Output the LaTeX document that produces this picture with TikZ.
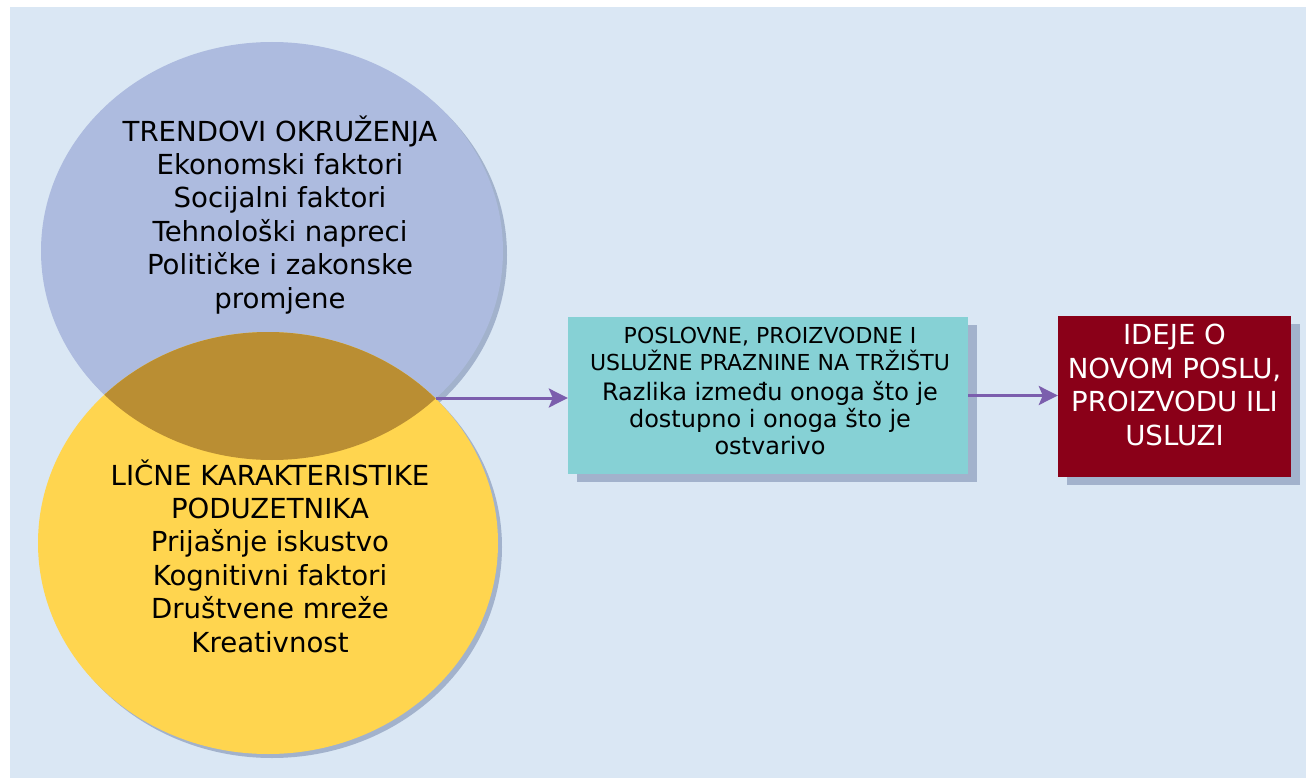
\documentclass[tikz,border=0pt]{standalone}
\usepackage{fontspec}
\setmainfont{DejaVu Sans}
\usetikzlibrary{arrows.meta,shapes.geometric,shadows}
\definecolor{bgc}{HTML}{DAE7F4}
\definecolor{bluec}{HTML}{ADBBDF}
\definecolor{ylwc}{HTML}{FFD54F}
\definecolor{overc}{HTML}{BA8E33}
\definecolor{tealc}{HTML}{86D1D5}
\definecolor{redc}{HTML}{8A0018}
\definecolor{shadowc}{HTML}{A2B2CC}
\definecolor{arrowc}{HTML}{7B5EAD}
\tikzset{
  circ/.style={ellipse, inner sep=0pt, draw=none,
    drop shadow={shadow xshift=4pt, shadow yshift=-4pt, fill=shadowc, opacity=1}},
  boxnode/.style={rectangle, inner sep=0pt, draw=none,
    drop shadow={shadow xshift=9pt, shadow yshift=-8pt, fill=shadowc, opacity=1}},
  txt/.style={align=center, inner sep=0pt, font=\fontsize{27.6}{33.4}\selectfont},
  conn/.style={draw=arrowc, line width=3pt, -{Stealth[length=19pt,width=19pt,inset=4pt]}}
}
\begin{document}
\begin{tikzpicture}[x=1pt,y=-1pt]
\useasboundingbox (0,0) rectangle (1306,778);
\fill[white] (0,0) rectangle (1306,778);
\fill[bgc] (10,7) rectangle (1306,778);

\node[circ, fill=bluec, minimum width=462pt, minimum height=418pt] (env) at (272,251) {};
\node[circ, fill=ylwc, minimum width=460pt, minimum height=422pt] (ind) at (268,543) {};
\begin{scope}
  \clip (ind.center) ellipse [x radius=230, y radius=211];
  \fill[overc] (env.center) ellipse [x radius=231, y radius=209];
\end{scope}
\coordinate (tip) at (436,398);

\node[txt, anchor=base] (envtxt) at (280,308) {TRENDOVI OKRUŽENJA\\Ekonomski faktori\\Socijalni faktori\\Tehnološki napreci\\Političke i zakonske\\promjene};
\node[txt, anchor=base] (indtxt) at (270,652) {LIČNE KARAKTERISTIKE\\PODUZETNIKA\\Prijašnje iskustvo\\Kognitivni faktori\\Društvene mreže\\Kreativnost};

\node[boxnode, fill=tealc, minimum width=400pt, minimum height=157pt] (gap) at (768,395.5) {};
\node[align=center, inner sep=0pt, anchor=base, font=\fontsize{22}{27}\selectfont] (gaptxt) at (770,454)
  {POSLOVNE, PROIZVODNE I\\USLUŽNE PRAZNINE NA TRŽIŠTU\\[3pt]
   \fontsize{24}{30}\selectfont Razlika između onoga što je\\
   \fontsize{24}{30}\selectfont dostupno i onoga što je\\
   \fontsize{24}{30}\selectfont ostvarivo};

\node[boxnode, fill=redc, minimum width=233pt, minimum height=161pt] (idea) at (1174.5,396.5) {};
\node[txt, anchor=base, text=white] (ideatxt) at (1174.5,445) {IDEJE O\\NOVOM POSLU,\\PROIZVODU ILI\\USLUZI};

\draw[conn] (tip) -- (tip -| gap.west);
\draw[conn] (gap.east) -- (gap.east -| idea.west);
\end{tikzpicture}
\end{document}
